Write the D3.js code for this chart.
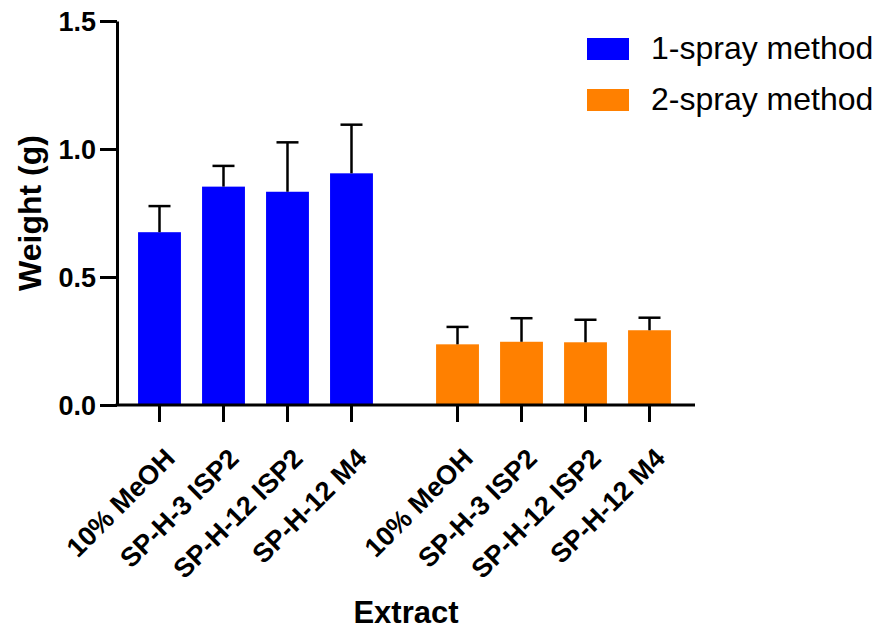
<!DOCTYPE html>
<html>
<head>
<meta charset="utf-8">
<script src="https://cdn.jsdelivr.net/npm/d3@7"></script>
<style>
  body { margin: 0; background: #fff; }
  svg { display: block; font-family: 'Liberation Sans', Arial, sans-serif; }
</style>
</head>
<body>
<div class="chart"></div>
<script>
const groups = ['1-spray method', '2-spray method'];
const extracts = ['10% MeOH', 'SP-H-3 ISP2', 'SP-H-12 ISP2', 'SP-H-12 M4'];
const oneSprayMean = [0.675, 0.853, 0.833, 0.905];
const oneSpraySd = [0.102, 0.081, 0.193, 0.190];
const twoSprayMean = [0.237, 0.247, 0.245, 0.292];
const twoSpraySd = [0.068, 0.092, 0.088, 0.049];
const colors = ['#0000ff', '#ff8000'];
const yTicks = [0, 0.5, 1.0, 1.5];

const width = 878;
const height = 631;
const axisLeft = 117;
const axisRight = 695;
const axisBottom = 405;
const axisTop = 21;

const rows = [
    { group: groups[0], mean: oneSprayMean, sd: oneSpraySd },
    { group: groups[1], mean: twoSprayMean, sd: twoSpraySd }
].flatMap((g, gi) => extracts.map((name, i) => ({
    group: g.group, gi, name, mean: g.mean[i], sd: g.sd[i]
})));

const svg = d3.select('.chart')
    .append('svg')
    .attr('width', width)
    .attr('height', height);

const y = d3.scaleLinear()
    .domain([0, 1.5])
    .range([axisBottom, axisTop]);

const xGroup = d3.scaleBand()
    .domain(groups)
    .range([axisLeft + 10.5, axisRight - 13.5])
    .paddingInner(0.141);

const xInner = d3.scaleBand()
    .domain(extracts)
    .range([0, xGroup.bandwidth()])
    .paddingInner(0.33)
    .paddingOuter(0.165);

const bx = d => xGroup(d.group) + xInner(d.name);
const cx = d => bx(d) + xInner.bandwidth() / 2;

// bars
svg.append('g')
    .selectAll('rect')
    .data(rows)
    .enter()
    .append('rect')
    .attr('x', bx)
    .attr('y', d => y(d.mean))
    .attr('width', xInner.bandwidth())
    .attr('height', d => axisBottom - y(d.mean))
    .attr('fill', d => colors[d.gi]);

// error bars (upper only)
const err = svg.append('g')
    .attr('stroke', '#000')
    .attr('stroke-width', 2.5);

err.selectAll('line.v')
    .data(rows)
    .enter()
    .append('line')
    .attr('class', 'v')
    .attr('x1', cx)
    .attr('x2', cx)
    .attr('y1', d => y(d.mean))
    .attr('y2', d => y(d.mean + d.sd));

err.selectAll('line.cap')
    .data(rows)
    .enter()
    .append('line')
    .attr('class', 'cap')
    .attr('x1', d => cx(d) - 11)
    .attr('x2', d => cx(d) + 11)
    .attr('y1', d => y(d.mean + d.sd))
    .attr('y2', d => y(d.mean + d.sd));

// y axis
const yAxis = svg.append('g')
    .attr('transform', `translate(${axisLeft},0)`)
    .call(d3.axisLeft(y)
        .tickValues(yTicks)
        .tickFormat(d3.format('.1f'))
        .tickSize(17)
        .tickSizeOuter(0));

yAxis.select('.domain')
    .attr('stroke-width', 3);
yAxis.selectAll('.tick line')
    .attr('stroke-width', 3);
yAxis.selectAll('.tick text')
    .attr('x', -21)
    .attr('dy', '0.36em')
    .style('font-size', '27px')
    .style('font-weight', 'bold')
    .attr('fill', '#000');

// x axis
const xAxis = svg.append('g');
xAxis.append('line')
    .attr('x1', axisLeft - 1.5)
    .attr('x2', axisRight)
    .attr('y1', axisBottom)
    .attr('y2', axisBottom)
    .attr('stroke', '#000')
    .attr('stroke-width', 3);

xAxis.selectAll('line.tick')
    .data(rows)
    .enter()
    .append('line')
    .attr('class', 'tick')
    .attr('x1', cx)
    .attr('x2', cx)
    .attr('y1', axisBottom)
    .attr('y2', axisBottom + 17)
    .attr('stroke', '#000')
    .attr('stroke-width', 3);

xAxis.selectAll('text')
    .data(rows)
    .enter()
    .append('text')
    .attr('transform', d => `translate(${cx(d) + 17},${axisBottom + 55}) rotate(-45)`)
    .attr('text-anchor', 'end')
    .style('font-size', '27px')
    .style('font-weight', 'bold')
    .text(d => d.name);

// axis titles
svg.append('text')
    .attr('transform', `translate(41,${(axisTop + axisBottom) / 2}) rotate(-90)`)
    .attr('text-anchor', 'middle')
    .style('font-size', '32px')
    .style('font-weight', 'bold')
    .text('Weight (g)');

svg.append('text')
    .attr('x', (axisLeft + axisRight) / 2)
    .attr('y', 623)
    .attr('text-anchor', 'middle')
    .style('font-size', '31px')
    .style('font-weight', 'bold')
    .text('Extract');

// legend
const legend = svg.append('g')
    .selectAll('g')
    .data(groups)
    .enter()
    .append('g')
    .attr('transform', (d, i) => `translate(587,${38 + i * 51})`);

legend.append('rect')
    .attr('width', 42)
    .attr('height', 22)
    .attr('fill', (d, i) => colors[i]);

legend.append('text')
    .attr('x', 64)
    .attr('y', 21)
    .style('font-size', '32px')
    .text(d => d);
</script>
</body>
</html>
